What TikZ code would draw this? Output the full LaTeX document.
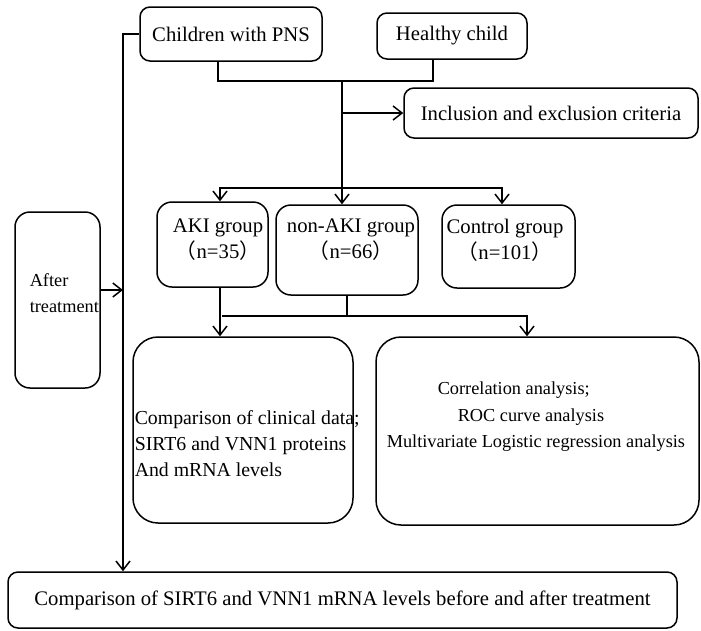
\documentclass[tikz,border=0pt]{standalone}
\usepackage{fontspec}
\setmainfont{Liberation Serif}
\newfontfamily\cjk{Noto Sans CJK SC}
\usetikzlibrary{arrows.meta, positioning}

\begin{document}
\begin{tikzpicture}[x=1pt,y=-1pt,>={Straight Barb[length=9pt,width=14pt]},line width=1.5pt]
	\tikzstyle{box} = [draw,rounded corners=10pt,inner sep=0pt]
	\tikzstyle{txt} = [inner sep=0pt,font=\fontsize{20.7}{26}\selectfont]
	\tikzstyle{small} = [inner sep=0pt,font=\fontsize{18.3}{26.5}\selectfont]
	\useasboundingbox (0,0) rectangle (701,630);
	% boxes
	\node[box,txt,minimum width=182pt,minimum height=54pt] (pns) at (231,34) {Children with PNS};
	\node[box,txt,minimum width=150pt,minimum height=46pt] (hc) at (452,36) {Healthy child};
	\node[box,txt,minimum width=294pt,minimum height=50pt] (incl) at (551,113) {Inclusion and exclusion criteria};
	\node[box,rounded corners=15pt,minimum width=111pt,minimum height=85pt] (aki) at (212.5,244.5) {};
	\node[box,rounded corners=15pt,minimum width=142pt,minimum height=90pt] (non) at (347,250) {};
	\node[box,rounded corners=15pt,minimum width=133pt,minimum height=83pt] (ctrl) at (508.5,246.5) {};
	\node[box,rounded corners=15pt,minimum width=85pt,minimum height=176pt] (after) at (57.5,300) {};
	\node[box,rounded corners=25pt,minimum width=220pt,minimum height=186pt] (cmp) at (243,430) {};
	\node[box,rounded corners=25pt,minimum width=323pt,minimum height=188pt] (ana) at (537.5,431) {};
	\node[box,txt,minimum width=669pt,minimum height=56pt] (bot) at (342.5,600) {Comparison of SIRT6 and VNN1 mRNA levels before and after treatment};
	% texts
	\node[txt,align=center] (akit) at (218,240) {AKI group\\{\cjk （}n=35{\cjk ）}};
	\node[txt,align=center] (nont) at (351,240) {non-AKI group\\{\cjk （}n=66{\cjk ）}};
	\node[txt,align=center] (ctrlt) at (505,240) {Control group\\{\cjk （}n=101{\cjk ）}};
	\node[small,align=left,anchor=west] (aftert) at (29,293) {After\\treatment};
	\node[txt,font=\fontsize{19.8}{26}\selectfont,align=left,anchor=west] (cmpt) at (134,444) {Comparison of clinical data;\\SIRT6 and VNN1 proteins\\And mRNA levels};
	\node[small,align=left,anchor=west] (anat) at (386,417) {\hspace*{51pt}Correlation analysis;\\\hspace*{71pt}ROC curve analysis\\Multivariate Logistic regression analysis};
	% connectors
	\coordinate (top) at (342,81);
	\coordinate (mid) at (342,188);
	\coordinate (low) at (347,316);
	\coordinate (side) at (123,290);
	\draw ([xshift=-13pt]pns.south) |- (top) -| ([xshift=-19pt]hc.south);
	\draw[->] (top) -- (top |- non.north);
	\draw[->] (top |- incl.west) -- (incl.west);
	\draw[->] (mid) -| ([xshift=7.5pt]aki.north);
	\draw[->] (mid) -| ([xshift=-6.5pt]ctrl.north);
	\draw[->] ([xshift=7.5pt]aki.south) -- ([xshift=7.5pt]aki.south |- cmp.north);
	\draw (non.south) -- (low);
	\draw[->] ([xshift=9.5pt]aki.south |- low) -| ([xshift=-10.5pt]ana.north);
	\draw[->] ([yshift=10pt]after.east) -- (side);
	\draw[->] (pns.west) -| (side |- bot.north);
\end{tikzpicture}
\end{document}
